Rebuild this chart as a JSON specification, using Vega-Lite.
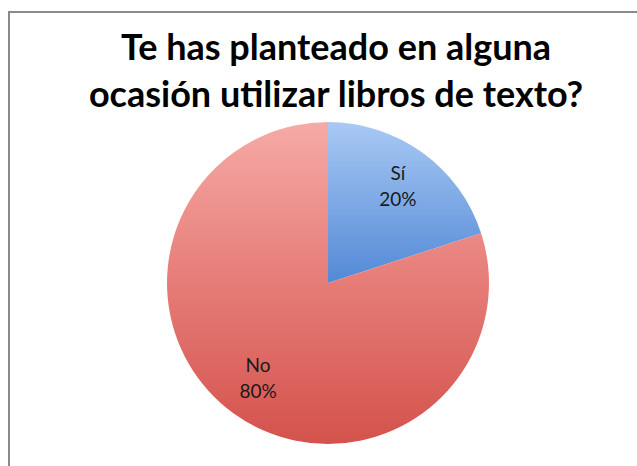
{
  "$schema": "https://vega.github.io/schema/vega-lite/v6.json",
  "width": 638,
  "height": 542,
  "autosize": "none",
  "padding": {"left": 9, "top": 12, "right": 0, "bottom": 0},
  "background": "white",
  "view": {"stroke": "#8a8a8a", "strokeWidth": 2, "fill": "white"},
  "title": {
    "text": ["Te has planteado en alguna", "ocasión utilizar libros de texto?"],
    "font": "Lato",
    "fontSize": 36,
    "fontWeight": "bold",
    "color": "black",
    "lineHeight": 47,
    "anchor": "middle",
    "dx": 8,
    "offset": -103
  },
  "data": {
    "values": [
      {"respuesta": "Sí", "porcentaje": 0.2},
      {"respuesta": "No", "porcentaje": 0.8}
    ]
  },
  "encoding": {
    "theta": {"field": "porcentaje", "type": "quantitative", "stack": true},
    "order": {"field": "respuesta", "type": "nominal", "sort": "descending"}
  },
  "layer": [
    {
      "mark": {"type": "arc", "outerRadius": 161},
      "encoding": {
        "color": {
          "condition": {
            "test": "datum.respuesta === 'Sí'",
            "value": {"gradient": "linear", "x1": 0, "y1": 0, "x2": 0, "y2": 1,
              "stops": [{"offset": 0, "color": "#a9c9f4"}, {"offset": 1, "color": "#5289d6"}]}
          },
          "value": {"gradient": "linear", "x1": 0, "y1": 0, "x2": 0, "y2": 1,
            "stops": [{"offset": 0, "color": "#f6aaa7"}, {"offset": 0.5, "color": "#e67c77"}, {"offset": 1, "color": "#d4524c"}]}
        }
      }
    },
    {
      "mark": {"type": "text", "radius": 119, "font": "Lato", "fontSize": 19, "color": "#1a1a1a", "dy": -13},
      "encoding": {"text": {"field": "respuesta", "type": "nominal"}}
    },
    {
      "mark": {"type": "text", "radius": 119, "font": "Lato", "fontSize": 19, "color": "#1a1a1a", "dy": 13},
      "encoding": {"text": {"field": "porcentaje", "type": "quantitative", "format": ".0%"}}
    }
  ]
}
